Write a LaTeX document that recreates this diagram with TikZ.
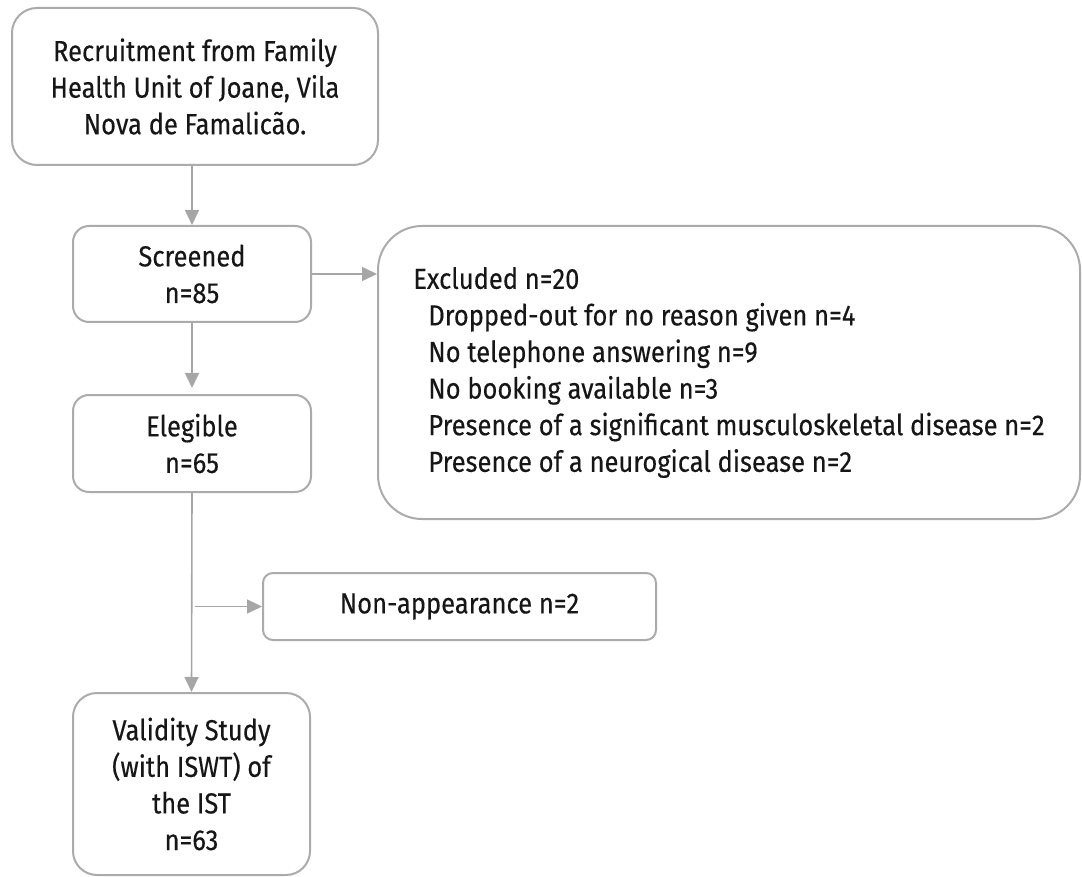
\documentclass[tikz,border=0pt]{standalone}
\usepackage{fontspec}
\setmainfont{Fira Sans}[FakeStretch=0.88, FakeBold=0.3]
\usetikzlibrary{arrows.meta}

\definecolor{boxgray}{HTML}{ABABAB}
\definecolor{arrowgray}{HTML}{A6A6A6}
\definecolor{textblack}{HTML}{161616}

\tikzset{
  box/.style={draw=boxgray, line width=1pt, rounded corners=#1, align=center,
    inner sep=0pt, text=textblack, font=\fontsize{14.5}{18.3}\selectfont},
  arr/.style={draw=arrowgray, line width=0.8pt, -{Triangle[length=7.5pt,width=7pt]}}
}

\begin{document}
\begin{tikzpicture}[x=0.5pt, y=-0.5pt]

  \useasboundingbox (0,0) rectangle (1082,877);

  % Boxes
  \node[box=12.5pt, minimum width=183pt, minimum height=78.5pt] (recruit) at (195,86.5)
    {Recruitment from Family\\Health Unit of Joane, Vila\\Nova de Famalicão.};
  \node[box=8pt, minimum width=119pt, minimum height=48pt] (screened) at (192,274)
    {Screened\\n=85};
  \node[box=22pt, minimum width=351pt, minimum height=146.5pt, align=left] (excluded) at (729,372.5)
    {Excluded n=20\\
     \hspace{7.5pt}Dropped-out for no reason given n=4\\
     \hspace{7.5pt}No telephone answering n=9\\
     \hspace{7.5pt}No booking available n=3\\
     \hspace{7.5pt}Presence of a significant musculoskeletal disease n=2\\
     \hspace{7.5pt}Presence of a neurogical disease n=2};
  \node[box=8pt, minimum width=119pt, minimum height=48.5pt] (elegible) at (192,443.5)
    {Elegible\\n=65};
  \node[box=5pt, minimum width=196.5pt, minimum height=33.5pt] (nonapp) at (459.5,606.5)
    {Non-appearance n=2};
  \node[box=12pt, minimum width=118.5pt, minimum height=91pt] (validity) at (191.5,784)
    {Validity Study\\(with ISWT) of\\the IST\\n=63};

  % Connectors
  \draw[arr] (screened.north |- recruit.south) -- (screened.north);
  \draw[arr] (screened.east) -- (screened.east -| excluded.west);
  \draw[arr] (screened.south) -- ([yshift=3pt]elegible.north);
  \draw[arr] (elegible.south) -- (validity.north);
  \draw[arr] ([xshift=1.5pt]elegible.south |- nonapp.west) -- (nonapp.west);

\end{tikzpicture}
\end{document}
